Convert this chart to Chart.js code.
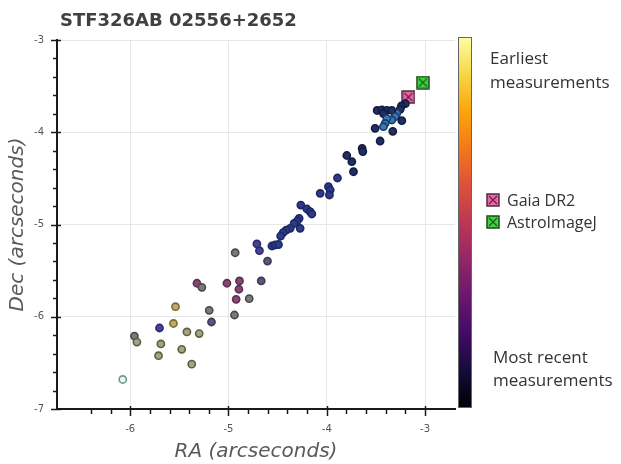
<!DOCTYPE html>
<html>
<head>
<meta charset="utf-8">
<script src="https://cdn.jsdelivr.net/npm/chart.js@4.4.0/dist/chart.umd.min.js"></script>
<style>
  html, body { margin: 0; padding: 0; background: #fff; }
</style>
</head>
<body>
<canvas id="chart" width="621" height="464"></canvas>
<script>
const ra = [
  -3.20, -3.24, -3.253, -3.287, -3.487, -3.439, -3.389, -3.338, -3.423, -3.304,
  -3.338, -3.389, -3.406, -3.423, -3.236, -3.508, -3.328, -3.457, -3.640, -3.633,
  -3.796, -3.745, -3.728, -3.891, -3.983, -3.965, -3.973, -4.067, -4.264, -4.202,
  -4.169, -4.152, -4.281, -4.301, -4.332, -4.372, -4.271, -4.413, -4.444, -4.469,
  -4.558, -4.525, -4.491, -4.711, -4.685, -4.603, -4.932, -4.667, -4.789, -5.016,
  -4.888, -4.894, -4.922, -4.939, -5.321, -5.271, -5.196, -5.173, -5.539, -5.560,
  -5.702, -5.423, -5.298, -5.957, -5.932, -5.688, -5.476, -5.712, -5.374, -6.076
];
const dec = [
  -3.690, -3.715, -3.751, -3.795, -3.764, -3.759, -3.762, -3.764, -3.797, -3.831,
  -3.867, -3.851, -3.905, -3.940, -3.875, -3.957, -3.990, -4.095, -4.176, -4.209,
  -4.252, -4.319, -4.428, -4.496, -4.590, -4.626, -4.680, -4.662, -4.789, -4.832,
  -4.861, -4.886, -4.933, -4.962, -4.989, -5.041, -5.041, -5.060, -5.087, -5.125,
  -5.233, -5.222, -5.217, -5.211, -5.284, -5.396, -5.306, -5.612, -5.804, -5.637,
  -5.612, -5.702, -5.811, -5.981, -5.637, -5.681, -5.930, -6.057, -5.891, -6.073,
  -6.122, -6.165, -6.182, -6.209, -6.274, -6.295, -6.353, -6.422, -6.514, -6.680
];
// epoch group of each measurement: 0 = most recent ... 9 = earliest
const era = [
  1, 1, 1, 0, 1, 1, 1, 1, 1, 0,
  0, 0, 0, 0, 1, 1, 1, 1, 1, 1,
  1, 1, 1, 2, 2, 2, 2, 2, 2, 2,
  2, 2, 2, 2, 2, 2, 2, 2, 2, 2,
  2, 2, 2, 3, 3, 4, 5, 4, 5, 6,
  6, 6, 6, 5, 6, 5, 5, 4, 8, 8,
  3, 7, 7, 5, 7, 7, 7, 7, 7, 9
];
const gaiaRa = [-3.169];
const gaiaDec = [-3.618];
const aijRa = [-3.022];
const aijDec = [-3.461];

const xMajor = [-6, -5, -4, -3];
const yMajor = [-7, -6, -5, -4, -3];

// colours per epoch group [edge, face]
const eraColors = [
  ['#1c3c6a', '#3a7ab4'],
  ['#131b40', '#213063'],
  ['#1e2764', '#2d3c8a'],
  ['#2c2a6c', '#46429a'],
  ['#3c3a5a', '#5a567e'],
  ['#4a4a4a', '#7a7a7c'],
  ['#5a3052', '#8c4474'],
  ['#606040', '#a3a385'],
  ['#7e6a30', '#c0aa6a'],
  ['#6a9a92', '#f2f7f5']
];

const isMajor = (v, list) => list.some(m => Math.abs(m - v) < 1e-6);
const onStep = v => Math.abs(v / 0.2 - Math.round(v / 0.2)) < 1e-6;

function boxMarker(fill, edge, cross) {
  const c = document.createElement('canvas');
  c.width = 14; c.height = 14;
  const g = c.getContext('2d');
  g.fillStyle = fill;
  g.fillRect(1, 1, 12, 12);
  g.strokeStyle = edge;
  g.lineWidth = 1.5;
  g.strokeRect(1, 1, 12, 12);
  g.strokeStyle = cross;
  g.lineWidth = 1.2;
  g.beginPath();
  g.moveTo(3, 3); g.lineTo(11, 11);
  g.moveTo(11, 3); g.lineTo(3, 11);
  g.stroke();
  return c;
}
const gaiaIcon = boxMarker('#e66aa8', '#4e2a3c', '#7a1c48');
const aijIcon = boxMarker('#3fd43f', '#1c4a1c', '#185e18');

const inferno = ['#000004', '#160b39', '#420a68', '#6a176e', '#932667', '#bc3754',
  '#dd513a', '#f37819', '#fca50a', '#f6d746', '#fcffa4'];

const decorations = {
  id: 'decorations',
  afterDraw(chart) {
    const { ctx, chartArea: a, scales: { x, y } } = chart;
    ctx.save();

    // tick marks (major crosses the axis, minor outside only)
    ctx.strokeStyle = '#1a1a1a';
    ctx.lineWidth = 1.5;
    x.ticks.forEach(t => {
      if (!onStep(t.value) || t.value < x.min + 1e-6) return;
      const px = Math.round(x.getPixelForValue(t.value)) + 0.5;
      const major = isMajor(t.value, xMajor);
      ctx.beginPath();
      ctx.moveTo(px, a.bottom + (major ? 7 : 5));
      ctx.lineTo(px, a.bottom - (major ? 3 : 0));
      ctx.stroke();
    });
    y.ticks.forEach(t => {
      if (!onStep(t.value)) return;
      const py = Math.round(y.getPixelForValue(t.value)) + 0.5;
      const major = isMajor(t.value, yMajor);
      ctx.beginPath();
      ctx.moveTo(a.left - (major ? 6 : 4), py);
      ctx.lineTo(a.left + (major ? 4 : 0), py);
      ctx.stroke();
    });

    // title
    ctx.fillStyle = '#404040';
    ctx.font = 'bold 18px "DejaVu Sans"';
    ctx.textAlign = 'left';
    ctx.textBaseline = 'middle';
    ctx.fillText('STF326AB 02556+2652', 60, 21);

    // colour bar
    const cbTop = 37, cbBottom = 408, cbLeft = 458, cbW = 14;
    const grad = ctx.createLinearGradient(0, cbBottom, 0, cbTop);
    inferno.forEach((c, i) => grad.addColorStop(i / (inferno.length - 1), c));
    ctx.fillStyle = grad;
    ctx.fillRect(cbLeft, cbTop, cbW, cbBottom - cbTop);
    ctx.strokeStyle = '#666';
    ctx.lineWidth = 1;
    ctx.strokeRect(cbLeft + 0.5, cbTop + 0.5, cbW - 1, cbBottom - cbTop - 1);

    ctx.fillStyle = '#333';
    ctx.font = '17px "Open Sans"';
    ctx.fillText('Earliest', 490, 59);
    ctx.fillText('measurements', 490, 83);
    ctx.fillText('Most recent', 493, 358);
    ctx.fillText('measurements', 493, 381);

    // legend
    ctx.drawImage(gaiaIcon, 486, 193);
    ctx.drawImage(aijIcon, 486, 215);
    ctx.font = '16px "Open Sans"';
    ctx.fillText('Gaia DR2', 507, 201);
    ctx.fillText('AstroImageJ', 507, 223);
    ctx.restore();
  }
};

const points = ra.map((v, i) => ({ x: v, y: dec[i] }));

new Chart(document.getElementById('chart'), {
  type: 'scatter',
  data: {
    datasets: [
      {
        label: 'Measurements',
        data: points,
        pointRadius: 3.6,
        pointBorderWidth: 1.6,
        pointBackgroundColor: era.map(e => eraColors[e][1]),
        pointBorderColor: era.map(e => eraColors[e][0])
      },
      {
        label: 'Gaia DR2',
        data: gaiaRa.map((v, i) => ({ x: v, y: gaiaDec[i] })),
        pointStyle: gaiaIcon
      },
      {
        label: 'AstroImageJ',
        data: aijRa.map((v, i) => ({ x: v, y: aijDec[i] })),
        pointStyle: aijIcon
      }
    ]
  },
  options: {
    responsive: false,
    animation: false,
    layout: { padding: { top: 40, right: 166, left: 0, bottom: 0 } },
    plugins: {
      legend: { display: false },
      tooltip: { enabled: false }
    },
    scales: {
      x: {
        type: 'linear',
        min: -6.745,
        max: -2.695,
        afterFit: s => { s.height = 55; },
        border: { color: '#1a1a1a', width: 2 },
        grid: {
          drawTicks: false,
          color: c => isMajor(c.tick.value, xMajor) ? '#e6e6e6' : 'rgba(0,0,0,0)'
        },
        ticks: {
          stepSize: 0.2,
          autoSkip: false,
          maxRotation: 0,
          padding: 14,
          color: '#555',
          font: { family: 'DejaVu Sans', size: 10 },
          callback: v => isMajor(v, xMajor) ? String(Math.round(v)) : ''
        },
        title: {
          display: true,
          text: 'RA (arcseconds)',
          color: '#5a5a5a',
          font: { family: 'DejaVu Sans', size: 20, style: 'italic' },
          padding: { top: 3, bottom: 0 }
        }
      },
      y: {
        type: 'linear',
        min: -7,
        max: -3,
        afterFit: s => { s.width = 57; },
        border: { color: '#1a1a1a', width: 2 },
        grid: {
          drawTicks: false,
          color: c => isMajor(c.tick.value, yMajor) ? '#e6e6e6' : 'rgba(0,0,0,0)'
        },
        ticks: {
          stepSize: 0.2,
          autoSkip: false,
          padding: 13,
          color: '#555',
          font: { family: 'DejaVu Sans', size: 10 },
          callback: v => isMajor(v, yMajor) ? String(Math.round(v)) : ''
        },
        title: {
          display: true,
          text: 'Dec (arcseconds)',
          color: '#5a5a5a',
          font: { family: 'DejaVu Sans', size: 20, style: 'italic' },
          padding: { top: 6, bottom: 0 }
        }
      }
    }
  },
  plugins: [decorations]
});
</script>
</body>
</html>
